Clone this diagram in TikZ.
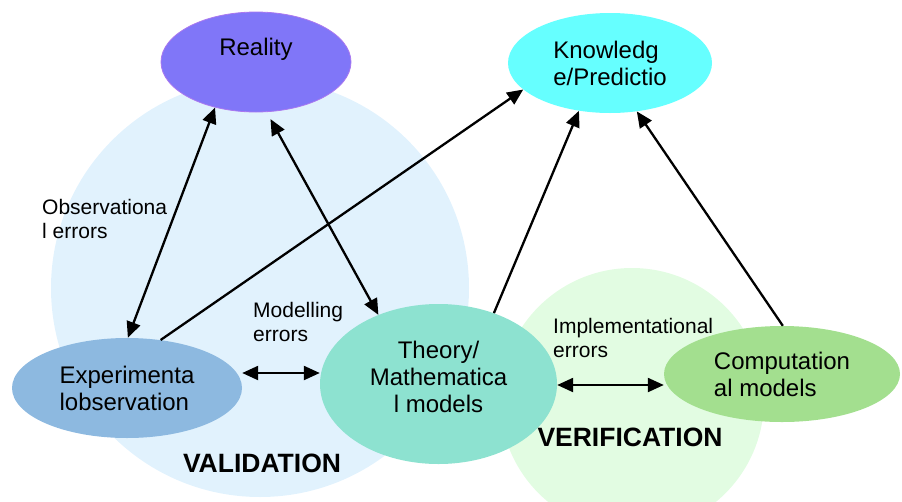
\documentclass[tikz,border=0pt]{standalone}
\usepackage{fontspec}
\setmainfont{Liberation Sans}
\usetikzlibrary{arrows.meta, shapes.geometric}

\definecolor{valcol}{RGB}{225,242,253}
\definecolor{vercol}{RGB}{226,252,226}
\definecolor{realcol}{RGB}{128,118,248}
\definecolor{realedge}{RGB}{170,120,240}
\definecolor{knowcol}{RGB}{102,255,255}
\definecolor{exptcol}{RGB}{141,185,224}
\definecolor{theocol}{RGB}{141,226,208}
\definecolor{compcol}{RGB}{163,223,143}

\begin{document}
\begin{tikzpicture}[x=1pt, y=-1pt, every node/.style={inner sep=0pt},
  blob/.style={ellipse, draw=none, font=\fontsize{24}{27}\selectfont, align=left},
  txt/.style={font=\fontsize{24}{27}\selectfont, align=center},
  lab/.style={font=\fontsize{21}{23.5}\selectfont, align=left, anchor=west},
  big/.style={font=\fontsize{26.5}{30}\selectfont\bfseries},
  link/.style={line width=2.3pt, -{Triangle[length=16pt,width=14pt]}},
  twoway/.style={link, {Triangle[length=16pt,width=14pt]}-{Triangle[length=16pt,width=14pt]}}]
\useasboundingbox (0,0) rectangle (902,501);
% Background regions
\fill[valcol] (260,288) circle[radius=209];
\fill[vercol] (632,400) circle[radius=132];

% The five ellipses
\node[blob, fill=realcol, draw=realedge, line width=0.8pt, minimum width=190pt, minimum height=100pt] (real) at (256,62) {};
\node[blob, fill=knowcol, minimum width=204pt, minimum height=100pt] (know) at (610,63) {Knowledg\\e/Predictio};
\node[blob, fill=exptcol, minimum width=230pt, minimum height=100pt] (expt) at (127,388) {Experimenta\\lobservation};
\node[blob, fill=theocol, minimum width=237pt, minimum height=160pt] (theo) at (438.5,384) {};
\node[blob, fill=compcol, minimum width=236pt, minimum height=96pt] (comp) at (782,374) {Computation\\al models};

\node[txt] (realtext) at (256,49) {Reality};
\node[txt] (theotext) at (438.5,377) {Theory/\\Mathematica\\l models};

% Labels
\node[lab] (obserr) at (42,219) {Observationa\\l errors};
\node[lab] (modelerr) at (253,322) {Modelling\\errors};
\node[lab] (implerr) at (553,338) {Implementational\\errors};
\node[big] (valid) at (262,463) {VALIDATION};
\node[big] (verif) at (630,437) {VERIFICATION};

% Arrows
\draw[twoway] (expt.89) -- (real.228);
\draw[twoway, shorten <=8pt] (real.282) -- (theo.131);
\draw[link] (expt.55) -- (know.197);
\draw[link] (theo.52) -- (know.237);
\draw[link] (comp.89) -- (know.299);
\draw[twoway] ([yshift=15pt]expt.east) -- ([yshift=11pt]theo.west);
\draw[twoway] ([yshift=-1pt]theo.east) -- ([yshift=-11pt]comp.west);
\end{tikzpicture}
\end{document}
